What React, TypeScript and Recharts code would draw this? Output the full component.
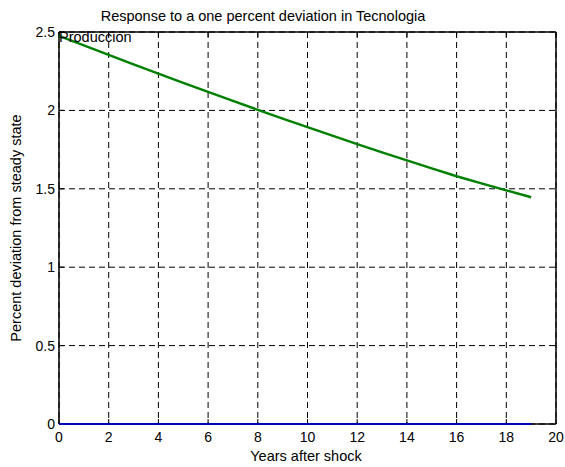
import React from 'react';
import {
  LineChart,
  Line,
  XAxis,
  YAxis,
  CartesianGrid,
} from 'recharts';

// impulse response, years after the technology shock
const years = [0, 1, 2, 3, 4, 5, 6, 7, 8, 9, 10, 11, 12, 13, 14, 15, 16, 17, 18, 19];
const produccion = [
  2.475, 2.414, 2.354, 2.294, 2.235, 2.176, 2.118, 2.061, 2.004, 1.948,
  1.893, 1.839, 1.785, 1.733, 1.681, 1.63, 1.58, 1.535, 1.49, 1.446,
];
const baseline = [0, 0, 0, 0, 0, 0, 0, 0, 0, 0, 0, 0, 0, 0, 0, 0, 0, 0, 0, 0];

const xTicks = [0, 2, 4, 6, 8, 10, 12, 14, 16, 18, 20];
const yTicks = [0, 0.5, 1, 1.5, 2, 2.5];

const data = years.map((year, i) => ({
  year,
  produccion: produccion[i],
  baseline: baseline[i],
}));

const FONT = 'Arial, "Liberation Sans", Helvetica, sans-serif';
const tickStyle = { fill: '#000', fontSize: 14, fontFamily: FONT };
const boxLine = { stroke: '#000', strokeWidth: 1.5 };

export default function App() {
  return (
    <div
      style={{
        position: 'absolute',
        left: 0,
        top: 0,
        width: 565,
        height: 467,
        background: '#fff',
        fontFamily: FONT,
        color: '#000',
      }}
    >
      <LineChart
        width={565}
        height={467}
        data={data}
        margin={{ top: 31, right: 8, bottom: 0, left: 0 }}
      >
        <CartesianGrid stroke="#000" strokeDasharray="6 4" strokeWidth={1} />
        <XAxis
          dataKey="year"
          type="number"
          domain={[0, 20]}
          ticks={xTicks}
          interval={0}
          height={43}
          tick={tickStyle}
          tickSize={-5}
          tickMargin={13}
          axisLine={boxLine}
          tickLine={{ stroke: '#000' }}
        />
        <XAxis
          xAxisId="top"
          orientation="top"
          dataKey="year"
          type="number"
          domain={[0, 20]}
          ticks={xTicks}
          interval={0}
          height={1}
          tick={() => null}
          tickSize={-5}
          axisLine={boxLine}
          tickLine={{ stroke: '#000' }}
        />
        <YAxis
          type="number"
          domain={[0, 2.5]}
          ticks={yTicks}
          interval={0}
          width={59}
          tick={tickStyle}
          tickSize={-5}
          tickMargin={9}
          axisLine={boxLine}
          tickLine={{ stroke: '#000' }}
        />
        <YAxis
          yAxisId="right"
          orientation="right"
          type="number"
          domain={[0, 2.5]}
          ticks={yTicks}
          interval={0}
          width={1}
          tick={() => null}
          tickSize={-5}
          axisLine={boxLine}
          tickLine={{ stroke: '#000' }}
        />
        <Line
          type="linear"
          dataKey="produccion"
          stroke="#008000"
          strokeWidth={2.4}
          dot={false}
          zIndex={900}
          isAnimationActive={false}
        />
        <Line
          type="linear"
          dataKey="baseline"
          stroke="#0000bb"
          strokeWidth={2.2}
          dot={false}
          zIndex={900}
          isAnimationActive={false}
        />
      </LineChart>

      <div
        style={{
          position: 'absolute',
          left: 263,
          top: 16,
          transform: 'translate(-50%, -50%)',
          fontSize: 14.5,
          whiteSpace: 'nowrap',
        }}
      >
        Response to a one percent deviation in Tecnologia
      </div>
      <div
        style={{
          position: 'absolute',
          left: 59,
          top: 37,
          transform: 'translateY(-50%)',
          fontSize: 14.5,
          whiteSpace: 'nowrap',
        }}
      >
        Produccion
      </div>
      <div
        style={{
          position: 'absolute',
          left: 306,
          top: 456,
          transform: 'translate(-50%, -50%)',
          fontSize: 14.5,
          whiteSpace: 'nowrap',
        }}
      >
        Years after shock
      </div>
      <div
        style={{
          position: 'absolute',
          left: 16,
          top: 228,
          transform: 'translate(-50%, -50%) rotate(-90deg)',
          fontSize: 14.5,
          whiteSpace: 'nowrap',
        }}
      >
        Percent deviation from steady state
      </div>
    </div>
  );
}
